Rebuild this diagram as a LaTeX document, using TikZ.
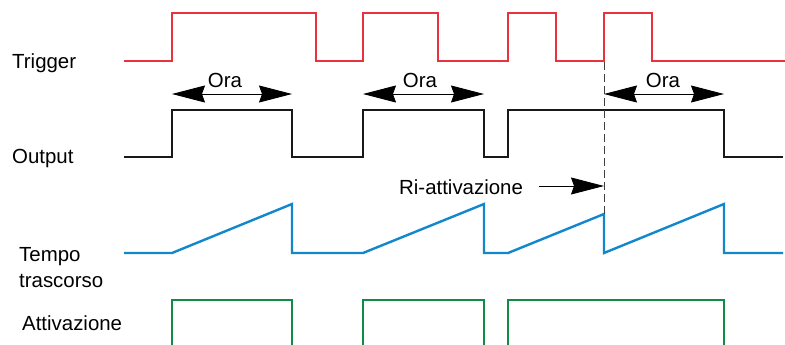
\documentclass[tikz,border=0pt]{standalone}
\usepackage{fontspec}
\setmainfont{Liberation Sans}
\usetikzlibrary{arrows.meta}
\definecolor{trigred}{RGB}{232,50,64}
\definecolor{tblue}{RGB}{18,135,205}
\definecolor{agreen}{RGB}{14,140,72}
\tikzset{
  sig/.style={line width=2.4bp, line join=miter, line cap=butt},
  lbl/.style={inner sep=0pt, anchor=base west, font=\fontsize{20.5}{24}\selectfont},
  oratext/.style={inner sep=0pt, anchor=base, font=\fontsize{20.5}{24}\selectfont},
  bighead/.tip={Stealth[length=33bp,width=17bp,inset=3bp]},
  span/.style={line width=0.9bp, bighead-bighead},
  onearrow/.style={line width=0.9bp, -bighead},
  dashline/.style={line width=0.9bp, dash pattern=on 8bp off 4bp}
}
\begin{document}
\begin{tikzpicture}[x=1bp,y=-1bp]
\useasboundingbox[fill=white] (0,0) rectangle (785,344);
% labels
\node[lbl] (ltrig) at (12,68) {Trigger};
\node[lbl] (lout) at (12,163) {Output};
\node[lbl] (ltempo) at (19,261) {Tempo};
\node[lbl] (ltras) at (19,287) {trascorso};
\node[lbl] (latt) at (22,330) {Attivazione};
% trigger
\draw[sig, trigred] (124,61)--(172,61)--(172,13)--(316,13)--(316,61)--(363,61)--(363,13)--(438,13)--(438,61)--(508,61)--(508,13)--(556,13)--(556,61)--(604,61)--(604,13)--(652,13)--(652,61)--(785,61);
% output
\draw[sig, black!90] (124,157)--(172,157)--(172,110)--(292,110)--(292,157)--(363,157)--(363,110)--(484,110)--(484,157)--(508,157)--(508,110)--(724,110)--(724,157)--(783,157);
% elapsed time
\draw[sig, tblue] (124,253)--(172,253)--(292,204)--(292,253)--(363,253)--(484,204)--(484,253)--(508,253)--(604,214)--(604,253)--(724,204)--(724,253)--(783,253);
% activation
\draw[sig, agreen] (172,350)--(172,300)--(292,300)--(292,350);
\draw[sig, agreen] (363,350)--(363,300)--(484,300)--(484,350);
\draw[sig, agreen] (508,350)--(508,300)--(724,300)--(724,350);
% dashed retrigger line
\coordinate (dtop) at (604,62);
\coordinate (dbot) at (604,214);
\draw[dashline, black!75] (dtop)--(dbot);
% Ora spans
\coordinate (a1) at (172,94); \coordinate (b1) at (292,94);
\coordinate (a2) at (363,94); \coordinate (b2) at (484,94);
\coordinate (a3) at (604,94); \coordinate (b3) at (724,94);
\draw[span] (a1)--(b1);
\draw[span] (a2)--(b2);
\draw[span] (a3)--(b3);
\node[oratext] (o1) at (225,87) {Ora};
\node[oratext] (o2) at (420,87) {Ora};
\node[oratext] (o3) at (663,87) {Ora};
% Ri-attivazione
\node[lbl] (ri) at (399,194) {Ri-attivazione};
\coordinate (rs) at (539,186);
\coordinate (rt) at (604,186);
\draw[onearrow] (rs) -- (rt);
\end{tikzpicture}
\end{document}
